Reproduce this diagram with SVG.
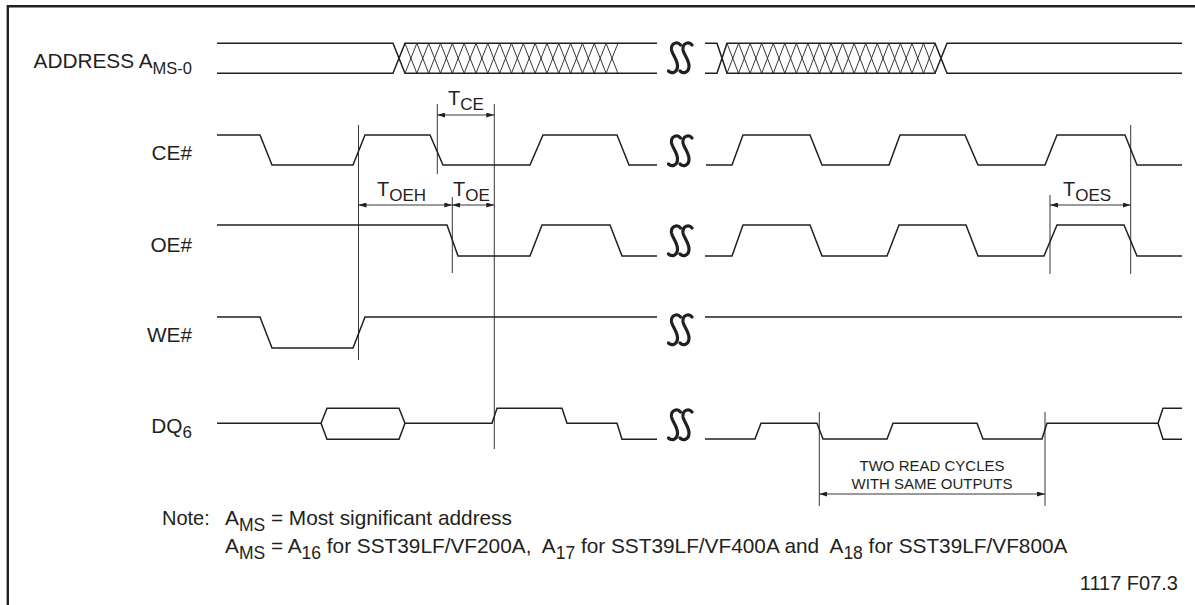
<svg xmlns="http://www.w3.org/2000/svg" width="1195" height="605" viewBox="0 0 1195 605">
<style>
.sig{fill:none;stroke:#231f20;stroke-width:1.5;stroke-linejoin:miter}
.hat{fill:none;stroke:#231f20;stroke-width:0.9}
.dim{fill:none;stroke:#231f20;stroke-width:0.9}
.arr{marker-start:url(#ah);marker-end:url(#ah)}
text{font-family:"Liberation Sans",Arial,Helvetica,sans-serif;fill:#231f20;font-size:20px;white-space:pre}
.lbl{font-size:20.8px}
.nt{font-size:20.8px}
.sm{font-size:15px}
.brk{fill:none;stroke:#231f20;stroke-width:3.2;stroke-linecap:round}
</style>
<defs>
<marker id="ah" markerUnits="userSpaceOnUse" markerWidth="8" markerHeight="5" refX="8" refY="2.5" orient="auto-start-reverse">
<path d="M0,0 L8,2.5 L0,5 z" fill="#231f20"/>
</marker>
<g id="brk">
<path class="brk" d="M6,-13 C3,-17 -4,-15 -3,-8 C-2,-3 3,2 3,8 C3,15 -3,16 -6,13"/>
</g>
<g id="brk2">
<use href="#brk" x="-5.5"/>
<use href="#brk" x="6"/>
</g>
</defs>
<rect width="1195" height="605" fill="#fff"/>
<path d="M7.8,605 V6.2 H1195" fill="none" stroke="#231f20" stroke-width="2.4"/>

<g id="address">
<text class="lbl" x="192" y="68" text-anchor="end">ADDRESS A<tspan font-size="16.5" dy="6">MS-0</tspan></text>
<path class="sig" d="M217,43.3 H393 L405,73.3 H657 M217,73.3 H393 L405,43.3 H657"/>
<path class="hat" d="M405,43.3 l11.83,30 l11.83,-30 l11.83,30 l11.83,-30 l11.83,30 l11.83,-30 l11.83,30 l11.83,-30 l11.83,30 l11.83,-30 l11.83,30 l11.83,-30 l11.83,30 l11.83,-30 l11.83,30 l11.83,-30 l11.83,30 l11.83,-30 M405,73.3 l11.83,-30 l11.83,30 l11.83,-30 l11.83,30 l11.83,-30 l11.83,30 l11.83,-30 l11.83,30 l11.83,-30 l11.83,30 l11.83,-30 l11.83,30 l11.83,-30 l11.83,30 l11.83,-30 l11.83,30 l11.83,-30 l11.83,30"/>
<path class="sig" d="M705,43.3 H717 L727,73.3 H935 L947,43.3 H1182 M705,73.3 H717 L727,43.3 H935 L947,73.3 H1182"/>
<path class="hat" d="M727,43.3 l11.56,30 l11.56,-30 l11.56,30 l11.56,-30 l11.56,30 l11.56,-30 l11.56,30 l11.56,-30 l11.56,30 l11.56,-30 l11.56,30 l11.56,-30 l11.56,30 l11.56,-30 l11.56,30 l11.56,-30 l11.56,30 l11.56,-30 M727,73.3 l11.56,-30 l11.56,30 l11.56,-30 l11.56,30 l11.56,-30 l11.56,30 l11.56,-30 l11.56,30 l11.56,-30 l11.56,30 l11.56,-30 l11.56,30 l11.56,-30 l11.56,30 l11.56,-30 l11.56,30 l11.56,-30 l11.56,30"/>
<use href="#brk2" x="680" y="58"/>
</g>

<g id="ce">
<text class="lbl" x="192" y="160" text-anchor="end">CE#</text>
<path class="sig" d="M217,135 H260 L272,165 H353 L365,135 H430 L443,165 H530 L543,135 H617 L629,165 H657"/>
<path class="sig" d="M706,165 H732 L743,135 H810 L822,165 H889 L900,135 H965 L978,165 H1045 L1057,135 H1125 L1137,165 H1182"/>
<use href="#brk2" x="680" y="151"/>
</g>

<g id="oe">
<text class="lbl" x="192" y="252" text-anchor="end">OE#</text>
<path class="sig" d="M217,225 H447 L458,256 H530 L542,225 H610 L622,256 H657"/>
<path class="sig" d="M705,256 H732 L743,225 H810 L822,256 H887 L899,225 H966 L978,256 H1044 L1057,225 H1124 L1137,256 H1182"/>
<use href="#brk2" x="680" y="241"/>
</g>

<g id="we">
<text class="lbl" x="192" y="342" text-anchor="end">WE#</text>
<path class="sig" d="M217,317 H260 L272,348 H353 L365,317 H657"/>
<path class="sig" d="M705,317 H1182"/>
<use href="#brk2" x="680" y="330"/>
</g>

<g id="dq6">
<text class="lbl" x="192" y="433" text-anchor="end">DQ<tspan font-size="17" dy="5">6</tspan></text>
<path class="sig" d="M217,423.3 H321 L327,408.3 H399 L405,423.3 L399,439.3 H327 L321,423.3 M405,423.3 H492 L497,408.3 H562 L567,423.3 H617 L622,439.3 H657"/>
<path class="sig" d="M705,439 H755 L761,423.3 H817 L823,439 H887 L893,423.3 H977 L983,439 H1042 L1047,423.3 H1158 L1163,408.3 H1182 M1158,423.3 L1163,439.3 H1182"/>
<use href="#brk2" x="680" y="425"/>
</g>

<g id="connectors">
<path class="dim" d="M358.5,125 V360 M437.3,104 V174 M494.3,104 V449 M452.3,197 V273 M1050,195 V274 M1130.7,125 V274 M819.3,412 V506 M1045,412 V506"/>
<path class="dim arr" d="M437.3,115 H494.3"/>
<path class="dim arr" d="M358.5,205 H452.3"/>
<path class="dim arr" d="M452.3,205 H494.3"/>
<path class="dim arr" d="M1050,205 H1130.7"/>
<path class="dim arr" d="M819.3,494 H1045"/>
</g>

<g id="labels">
<text x="448" y="105">T<tspan font-size="17" dy="5">CE</tspan></text>
<text x="377" y="196">T<tspan font-size="17" dy="5">OEH</tspan></text>
<text x="453" y="196">T<tspan font-size="17" dy="5">OE</tspan></text>
<text x="1063" y="196">T<tspan font-size="17" dy="5">OES</tspan></text>
<text class="sm" x="932" y="471" text-anchor="middle">TWO READ CYCLES</text>
<text class="sm" x="932" y="489" text-anchor="middle">WITH SAME OUTPUTS</text>
</g>

<g id="note">
<text x="162" y="525">Note:</text>
<text class="nt" x="225" y="525">A<tspan font-size="17.5" dy="6">MS</tspan><tspan dy="-6"> = Most significant address</tspan></text>
<text class="nt" x="225" y="553">A<tspan font-size="17.5" dy="6">MS</tspan><tspan dy="-6"> = A</tspan><tspan font-size="17.5" dy="6">16</tspan><tspan dy="-6"> for SST39LF/VF200A,  A</tspan><tspan font-size="17.5" dy="6">17</tspan><tspan dy="-6"> for SST39LF/VF400A and  A</tspan><tspan font-size="17.5" dy="6">18</tspan><tspan dy="-6"> for SST39LF/VF800A</tspan></text>
<text x="1178" y="590" text-anchor="end" font-size="16">1117 F07.3</text>
</g>
</svg>
